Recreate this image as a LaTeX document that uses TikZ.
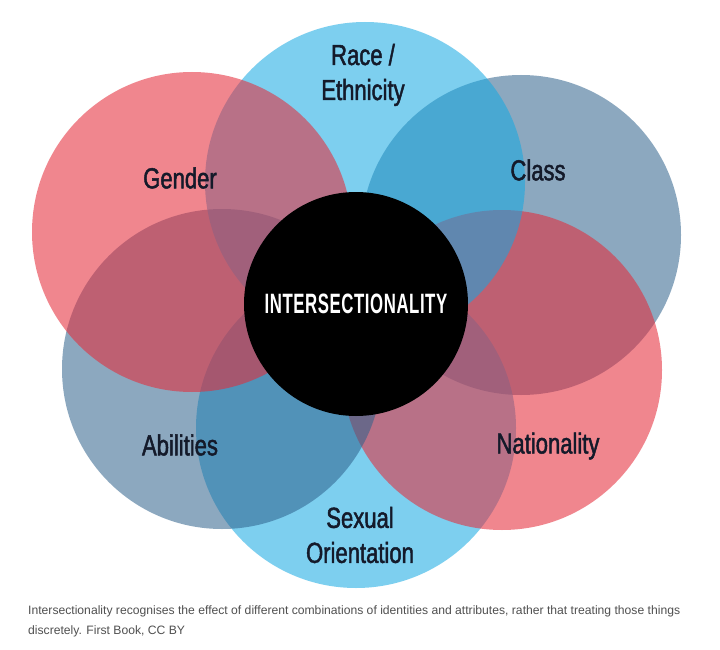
\documentclass[tikz,border=0pt]{standalone}
\usepackage{fontspec}
\setmainfont{Liberation Sans}
\newfontfamily\labelfont[FakeStretch=0.76,FakeBold=1.6]{Liberation Sans}
\newfontfamily\centerfont[FakeStretch=0.6,LetterSpace=2]{Liberation Sans Bold}
\definecolor{pinkc}{RGB}{229,43,57}
\definecolor{cyanc}{RGB}{19,168,226}
\definecolor{steelc}{RGB}{46,97,140}
\definecolor{labelc}{RGB}{20,26,42}
\definecolor{captionc}{RGB}{80,80,80}
\tikzset{
  bigcircle/.style={circle, inner sep=0pt, minimum size=320pt, draw=none},
  pinkcircle/.style={bigcircle, fill=pinkc, fill opacity=0.57},
  cyancircle/.style={bigcircle, fill=cyanc, fill opacity=0.55},
  steelcircle/.style={bigcircle, fill=steelc, fill opacity=0.55},
  corecircle/.style={circle, inner sep=0pt, minimum size=224pt, fill=black, draw=none},
  lbl/.style={text=labelc, font=\labelfont\fontsize{29}{35}\selectfont, align=center, inner sep=0pt},
  caption/.style={text=captionc, font=\fontsize{12.15}{20}\selectfont, anchor=base west, inner sep=0pt}
}
\begin{document}
\begin{tikzpicture}[x=1pt,y=-1pt]
\useasboundingbox (0,0) rectangle (720,650);
\fill[white] (0,0) rectangle (720,650);
% circles in layering order
\node[steelcircle] (class) at (521,235) {};
\node[cyancircle] (sexual) at (356,428) {};
\node[pinkcircle] (nationality) at (502,370) {};
\node[steelcircle] (abilities) at (222,369) {};
\node[cyancircle] (race) at (365,182) {};
\node[pinkcircle] (gender) at (192,232) {};
\node[corecircle] (core) at (356,304) {};
% labels
\node[lbl] (racelbl) at (363,75) {Race /\\Ethnicity};
\node[lbl] (genderlbl) at (180,178) {Gender};
\node[lbl] (classlbl) at (538,170) {Class};
\node[lbl] (abilitieslbl) at (180,445) {Abilities};
\node[lbl] (nationalitylbl) at (548,446) {Nationality};
\node[lbl] (sexuallbl) at (360,535) {Sexual\\Orientation};
\node[text=white, font=\centerfont\fontsize{28}{30}\selectfont, inner sep=0pt] (corelbl) at (356,304) {INTERSECTIONALITY};
% caption
\node[caption] (cap1) at (28,614) {Intersectionality recognises the effect of different combinations of identities and attributes, rather that treating those things};
\node[caption] (cap2) at (28,634) {discretely. First Book, CC BY};
\end{tikzpicture}
\end{document}
